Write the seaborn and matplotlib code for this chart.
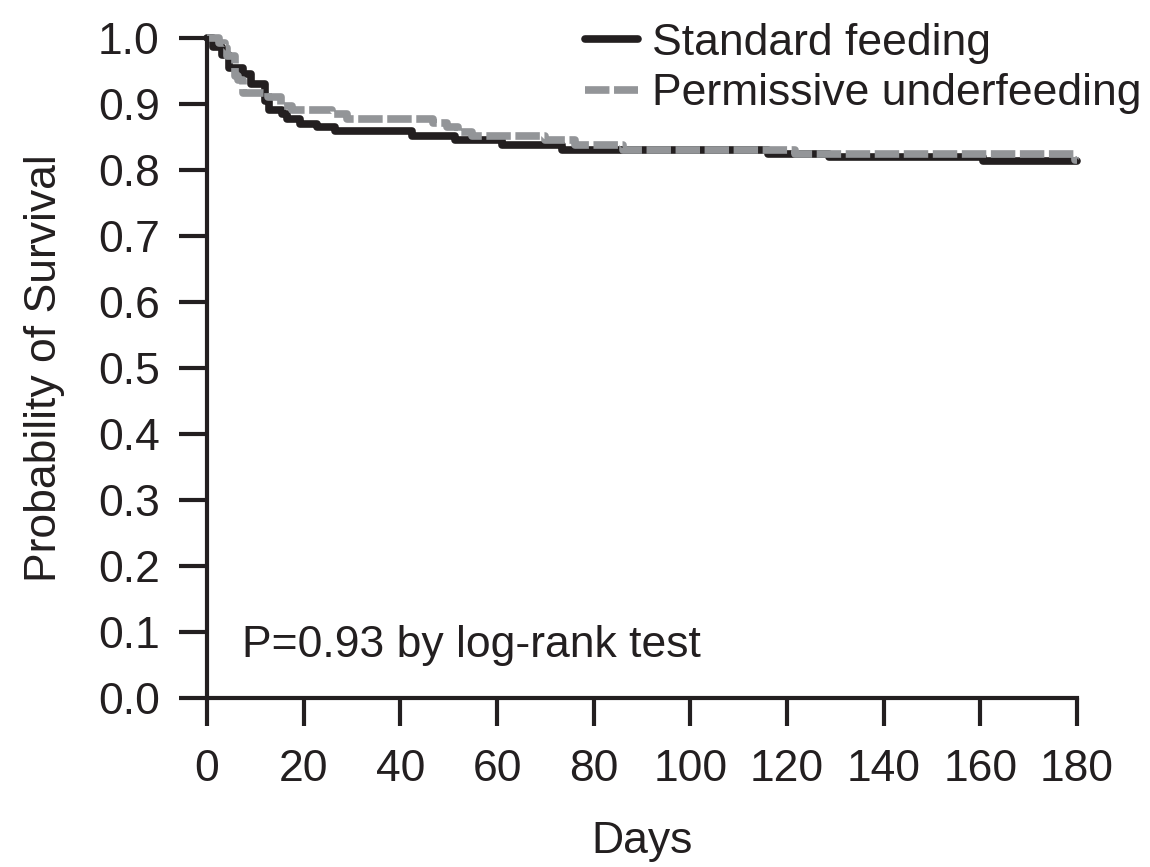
import matplotlib
matplotlib.use("Agg")
import matplotlib.pyplot as plt
import seaborn as sns
import pandas as pd

# Data (Kaplan-Meier step curves)
std_days = [0, 1.3, 3.0, 4.6, 7.5, 9.2, 12.0, 12.9, 15.5, 16.5, 19.2, 22.7, 26.5,
            42.4, 51.3, 61.0, 73.4, 116.0, 128.6, 160.6, 180]
std_surv = [1.0, 0.986, 0.975, 0.955, 0.945, 0.930, 0.905, 0.891, 0.885, 0.878, 0.870,
            0.865, 0.859, 0.852, 0.845, 0.838, 0.831, 0.825, 0.819, 0.813, 0.813]

perm_days = [0, 2.5, 3.7, 4.1, 5.8, 6.5, 7.5, 12.7, 15.4, 17.5, 25.8, 28.9, 46.8,
             49.6, 52.0, 54.8, 69.9, 76.1, 86.1, 121.7, 179.5, 180]
perm_surv = [1.0, 0.993, 0.985, 0.973, 0.943, 0.936, 0.917, 0.910, 0.897, 0.891, 0.885,
             0.878, 0.871, 0.865, 0.858, 0.852, 0.845, 0.838, 0.831, 0.825, 0.815, 0.815]

series_labels = ["Standard feeding", "Permissive underfeeding"]
x_ticks = [0, 20, 40, 60, 80, 100, 120, 140, 160, 180]
y_ticks = [0.0, 0.1, 0.2, 0.3, 0.4, 0.5, 0.6, 0.7, 0.8, 0.9, 1.0]

sns.set_theme(style="ticks")
plt.rcParams["font.family"] = ["Liberation Sans", "DejaVu Sans"]

BLACK = "#231f20"
GRAY = "#939598"
FS = 32

fig = plt.figure(figsize=(11.5, 8.67), dpi=100)
ax = fig.add_axes([207/1150, 1 - 698/867, (1077-207)/1150, (698-38)/867])

df_std = pd.DataFrame({"Days": std_days, "Survival": std_surv})
df_perm = pd.DataFrame({"Days": perm_days, "Survival": perm_surv})

sns.lineplot(data=df_std, x="Days", y="Survival", ax=ax, color=BLACK, lw=5.5,
             drawstyle="steps-post", label=series_labels[0], clip_on=False)
sns.lineplot(data=df_perm, x="Days", y="Survival", ax=ax, color=GRAY, lw=5.5,
             drawstyle="steps-post", label=series_labels[1], clip_on=False)
ax.lines[-1].set_dashes([3.2, 0.6])
ax.lines[-1].set_dash_capstyle("butt")

ax.set_xlim(0, 180)
ax.set_ylim(0, 1.0)
ax.set_xticks(x_ticks)
ax.set_yticks(y_ticks)
ax.set_xticklabels([str(t) for t in x_ticks])
ax.set_yticklabels([f"{t:.1f}" for t in y_ticks])

for s in ["top", "right"]:
    ax.spines[s].set_visible(False)
for s in ["left", "bottom"]:
    ax.spines[s].set_linewidth(3)
    ax.spines[s].set_color(BLACK)

ax.tick_params(axis="both", direction="out", length=20, width=3, colors=BLACK,
               labelsize=FS, labelcolor=BLACK)
ax.tick_params(axis="x", pad=17)
ax.tick_params(axis="y", pad=14)

ax.set_xlabel("Days", fontsize=FS, color=BLACK, labelpad=22)
ax.set_ylabel("Probability of Survival", fontsize=FS, color=BLACK, labelpad=24)

ax.text(7.2, 0.062, "P=0.93 by log-rank test", fontsize=FS, color=BLACK,
        ha="left", va="baseline")

leg = ax.legend(loc="upper left", bbox_to_anchor=(585/1150, 0.974),
                bbox_transform=fig.transFigure, frameon=False, fontsize=FS,
                borderpad=0, borderaxespad=0, handlelength=1.2,
                handletextpad=0.3, labelspacing=0.22)
for t in leg.get_texts():
    t.set_color(BLACK)

fig.savefig("out.png", dpi=100)
